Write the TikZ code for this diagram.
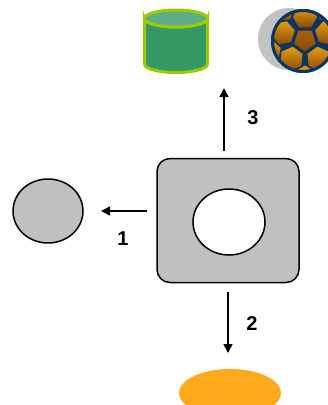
\documentclass[tikz,border=0pt]{standalone}
\usepackage{fontspec}
\setmainfont{Liberation Sans}
\usetikzlibrary{shapes.geometric,arrows.meta,positioning}

\definecolor{boxgray}{HTML}{C0C0C0}
\definecolor{shadegray}{HTML}{C2C2C2}
\definecolor{sunorange}{HTML}{FFA91C}
\definecolor{drumgreen}{HTML}{359966}
\definecolor{drumtop}{HTML}{5DAD88}
\definecolor{drumrim}{HTML}{99CC00}
\definecolor{ballnavy}{HTML}{0C3562}
\definecolor{panelor}{HTML}{E5A010}
\definecolor{panelbr}{HTML}{8A4806}

\tikzstyle{blob}=[ellipse,draw,line width=1.5pt,fill=boxgray,inner sep=0pt]
\tikzstyle{hubbox}=[rectangle,draw,line width=1.5pt,rounded corners=13pt,fill=boxgray]
\tikzstyle{arr}=[-{Triangle[length=9pt,width=9pt]},line width=1.5pt]
\tikzstyle{num}=[font=\fontsize{20}{20}\selectfont\bfseries]
\tikzstyle{panel}=[draw=ballnavy,line width=1.3pt,top color=panelor,bottom color=panelbr]

\begin{document}
\begin{tikzpicture}[x=1pt,y=-1pt]
\useasboundingbox (0,0) rectangle (328,405);

% center box with its opening
\node (hub) [hubbox,minimum width=142pt,minimum height=124pt] at (228,220.5) {};
\node (hole) [blob,fill=white,minimum width=72pt,minimum height=66pt] at (229,222) {};

% targets
\node (left) [blob,minimum width=70pt,minimum height=64pt] at (48,211) {};
\node (puddle) [ellipse,fill=sunorange,minimum width=102pt,minimum height=48pt] at (230,393) {};

% drum
\coordinate (drum) at (176,41);
\filldraw[fill=drumgreen,draw=drumrim,line width=3pt]
  (144.5,18.5) -- (144.5,64) arc[start angle=180,end angle=0,x radius=31.5,y radius=8.5]
  -- (207.5,18.5) arc[start angle=0,end angle=180,x radius=31.5,y radius=8.5] -- cycle;
\filldraw[fill=drumtop,draw=drumrim,line width=3pt] (176,18.5) ellipse [x radius=31.5,y radius=8.5];

% ball and its shadow
\coordinate (ball) at (303,41);
\fill[shadegray] (289,39) circle (31);
\fill[ballnavy] (ball) circle (32);
\begin{scope}
  \clip (ball) circle (29.5);
  \begin{scope}[shift={(305,40)},scale=1.3]
    % outer ring
    \foreach \k in {0,...,4} {
      \pgfmathsetmacro\a{90+72*\k}
      \begin{scope}[shift={(\a:29)}]
        \filldraw[panel] ({\a+0}:10) -- ({\a+60}:10) -- ({\a+120}:10) -- ({\a+180}:10) -- ({\a+240}:10) -- ({\a+300}:10) -- cycle;
      \end{scope}
      \begin{scope}[shift={({\a+36}:37)}]
        \filldraw[panel,top color=panelbr!80!panelor] ({\a+36}:10) -- ({\a+108}:10) -- ({\a+180}:10) -- ({\a+252}:10) -- ({\a+324}:10) -- cycle;
      \end{scope}
    }
    % hexagons round the middle
    \foreach \k in {0,...,4} {
      \pgfmathsetmacro\a{90+36+72*\k}
      \begin{scope}[shift={(\a:17.8)}]
        \filldraw[panel] ({\a+30}:10) -- ({\a+90}:10) -- ({\a+150}:10) -- ({\a+210}:10) -- ({\a+270}:10) -- ({\a+330}:10) -- cycle;
      \end{scope}
    }
    % middle pentagon
    \filldraw[panel,top color=panelbr!70!panelor,bottom color=panelbr] (90:9.5) -- (162:9.5) -- (234:9.5) -- (306:9.5) -- (18:9.5) -- cycle;
  \end{scope}
\end{scope}
\draw[ballnavy,line width=3pt] (ball) circle (30.5);

% moves
\coordinate (out1) at (147,211);
\coordinate (in1) at (101,211);
\coordinate (out2) at (228,292);
\coordinate (in2) at (228,353);
\coordinate (out3) at (224,151);
\coordinate (in3) at (224,88);
\draw [arr] (out1) -- (in1);
\draw [arr] (out2) -- (in2);
\draw [arr] (out3) -- (in3);
\node (n1) [num] at (123,239) {1};
\node (n2) [num] at (252,324) {2};
\node (n3) [num] at (253,118) {3};
\end{tikzpicture}
\end{document}
